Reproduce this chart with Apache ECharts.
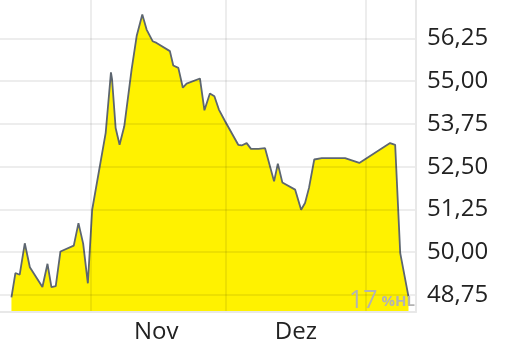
<!DOCTYPE html>
<html><head><meta charset="utf-8">
<script src="https://cdn.jsdelivr.net/npm/echarts@6/dist/echarts.min.js"></script>
<style>html,body{margin:0;padding:0;background:#fff}#c{width:512px;height:346px}</style>
</head><body><div id="c"></div>
<script>
const dates = [
  '2024-10-14 09:00','2024-10-15 06:00','2024-10-16 05:00','2024-10-17 08:00','2024-10-18 11:00',
  '2024-10-21 06:00','2024-10-22 09:00','2024-10-23 06:00','2024-10-24 05:00','2024-10-25 06:00',
  '2024-10-28 05:00','2024-10-29 06:00','2024-10-30 07:00','2024-10-31 08:00','2024-11-01 07:00',
  '2024-11-04 07:00','2024-11-05 00:00','2024-11-05 11:00','2024-11-05 17:00','2024-11-06 12:00',
  '2024-11-07 09:00','2024-11-08 10:00','2024-11-10 01:00','2024-11-11 04:00','2024-11-12 10:00',
  '2024-11-13 09:00','2024-11-14 17:00','2024-11-15 14:00','2024-11-18 13:00','2024-11-19 07:00',
  '2024-11-20 10:00','2024-11-21 10:00','2024-11-22 06:00','2024-11-25 05:00','2024-11-26 05:00',
  '2024-11-27 10:00','2024-11-28 10:00','2024-11-29 10:00','2024-11-30 19:00','2024-12-03 17:00',
  '2024-12-04 11:00','2024-12-05 14:00','2024-12-06 13:00','2024-12-08 05:00','2024-12-09 16:00',
  '2024-12-11 16:00','2024-12-12 12:00','2024-12-13 12:00','2024-12-16 08:00','2024-12-17 16:00',
  '2024-12-18 13:00','2024-12-19 10:00','2024-12-20 14:00','2024-12-22 06:00','2024-12-27 10:00',
  '2024-12-30 14:00','2025-01-06 10:00','2025-01-07 13:00','2025-01-08 16:00','2025-01-10 12:00'
];
const prices = [
  48.68,49.39,49.34,50.26,49.56,
  48.98,49.66,48.98,49.01,50.02,
  50.19,50.85,50.25,49.09,51.24,
  53.49,54.56,55.26,55.05,53.63,
  53.14,53.68,55.34,56.32,56.95,
  56.51,56.17,56.12,55.88,55.46,
  55.39,54.81,54.93,55.08,54.15,
  54.64,54.56,54.17,53.83,53.14,
  53.12,53.19,53.02,53.02,53.04,
  52.07,52.59,52.04,51.83,51.24,
  51.44,51.88,52.71,52.75,52.75,
  52.61,53.19,53.14,49.97,48.70
];
const monthStarts = ['2024-11-01','2024-12-01','2025-01-01'];
const monthLabelDates = ['2024-11-15 12:00','2024-12-16 12:00'];
const monthNames = {10:'Nov', 11:'Dez'};
const yTicks = [48.75,50.00,51.25,52.50,53.75,55.00,56.25];

const ts = s => new Date(s.indexOf(' ')>0 ? s.replace(' ','T') : s+'T00:00').getTime();
const chart = echarts.init(document.getElementById('c'), null, {renderer:'canvas'});
chart.setOption({
  animation:false,
  grid:{left:0,right:96,top:0,bottom:34,containLabel:false},
  title:{
    text:'{a|17}{b|%HL}', right:97, bottom:34, padding:0,
    textStyle:{fontWeight:'normal',rich:{
      a:{fontFamily:'Open Sans',fontSize:25,fontWeight:'normal',color:'#b3b3b3',padding:[0,4,0,0],lineHeight:26,verticalAlign:'bottom'},
      b:{fontFamily:'Open Sans',fontSize:15,fontWeight:'bold',color:'#b3b3b3',lineHeight:26,verticalAlign:'bottom',padding:[0,0,4,0]}
    }}
  },
  xAxis:{
    type:'value', z:5, scale:true,
    min:ts('2024-10-11 20:00'), max:ts('2025-01-12 04:00'),
    axisLine:{show:true,lineStyle:{color:'#e8e8e8',width:2}},
    axisTick:{show:false, customValues: monthStarts.map(ts)},
    splitLine:{show:true,lineStyle:{color:'rgba(0,0,0,0.07)',width:2}},
    axisLabel:{
      customValues: monthLabelDates.map(ts),
      formatter: v => monthNames[new Date(v).getMonth()] || '',
      fontFamily:'Open Sans', fontSize:24, color:'#222', margin:8
    }
  },
  yAxis:{
    type:'value', position:'right', z:5,
    min:48.25, max:57.375,
    axisLine:{show:true,lineStyle:{color:'#e8e8e8',width:2}},
    axisTick:{show:false, customValues: yTicks},
    splitLine:{show:true,lineStyle:{color:'rgba(0,0,0,0.07)',width:2}},
    axisLabel:{
      customValues: yTicks,
      formatter: v => v.toFixed(2).replace('.',','),
      fontFamily:'Open Sans', fontSize:24, color:'#222', margin:11
    }
  },
  series:[{
    type:'line', z:2,
    data: dates.map((d,i)=>[ts(d), prices[i]]),
    showSymbol:false, symbol:'none',
    lineStyle:{color:'#5d6670',width:1.8},
    areaStyle:{color:'#fff200',opacity:1, origin:'start'}
  }]
});
</script></body></html>
